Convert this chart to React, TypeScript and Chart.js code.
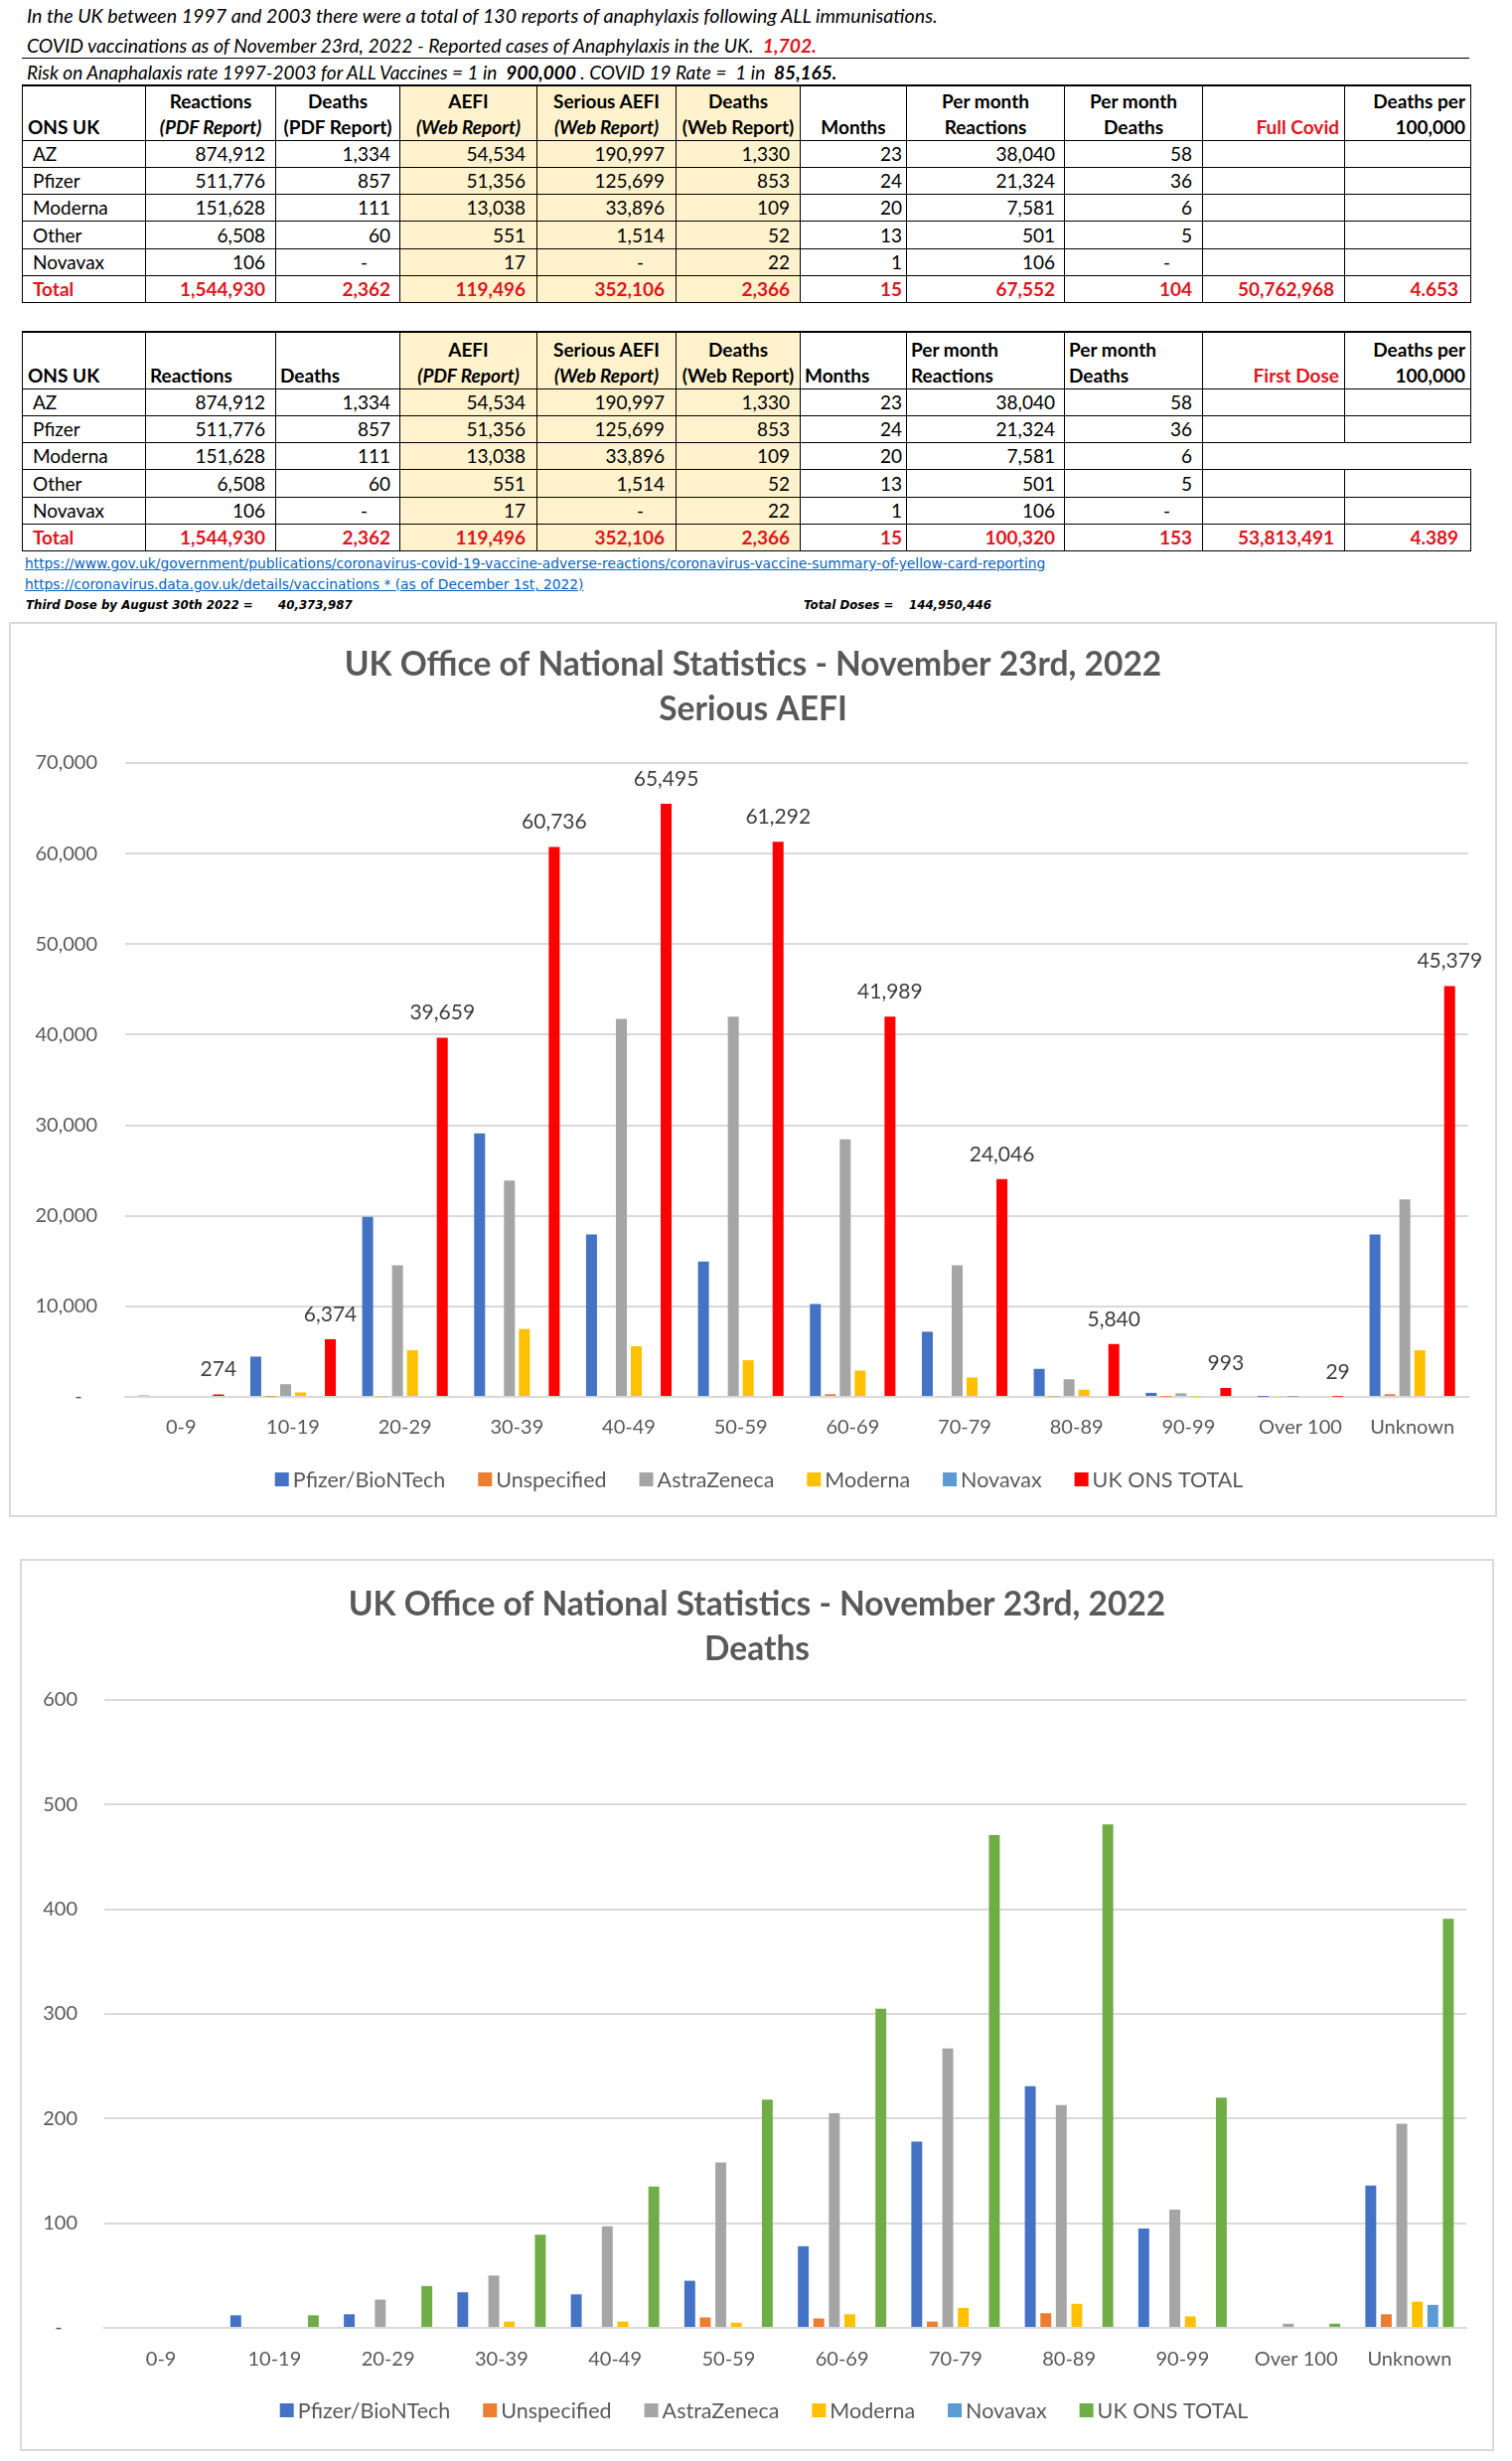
import React, { useEffect, useRef } from 'react';
import { Chart, registerables } from 'chart.js';

Chart.register(...registerables);

const FONT = 'Lato, "Open Sans", "DejaVu Sans", sans-serif';
const LINK_FONT = '"DejaVu Sans", Verdana, sans-serif';

// ---------- chart data ----------
const ageGroups = ['0-9', '10-19', '20-29', '30-39', '40-49', '50-59', '60-69', '70-79', '80-89', '90-99', 'Over 100', 'Unknown'];
const seriesNames = ['Pfizer/BioNTech', 'Unspecified', 'AstraZeneca', 'Moderna', 'Novavax', 'UK ONS TOTAL'];

// Serious AEFI by age group
const aefiPfizer = [150, 4450, 19900, 29100, 17950, 14950, 10250, 7200, 3100, 450, 10, 17950];
const aefiUnspecified = [0, 40, 80, 120, 100, 100, 300, 100, 60, 20, 0, 300];
const aefiAstraZeneca = [0, 1400, 14550, 23900, 41750, 42000, 28450, 14550, 1950, 400, 5, 21800];
const aefiModerna = [0, 500, 5150, 7500, 5600, 4050, 2900, 2150, 800, 50, 0, 5150];
const aefiNovavax = [0, 0, 0, 0, 0, 0, 0, 0, 0, 0, 0, 0];
const aefiTotal = [274, 6374, 39659, 60736, 65495, 61292, 41989, 24046, 5840, 993, 29, 45379];

// Deaths by age group
const deathsPfizer = [0, 12, 13, 34, 32, 45, 78, 178, 231, 95, 0, 136];
const deathsUnspecified = [0, 0, 0, 0, 0, 10, 9, 6, 14, 0, 0, 13];
const deathsAstraZeneca = [0, 0, 27, 50, 97, 158, 205, 267, 213, 113, 4, 195];
const deathsModerna = [0, 0, 0, 6, 6, 5, 13, 19, 23, 11, 0, 25];
const deathsNovavax = [0, 0, 0, 0, 0, 0, 0, 0, 0, 0, 0, 22];
const deathsTotal = [0, 12, 40, 89, 135, 218, 305, 471, 481, 220, 4, 391];

const aefiTicks = [0, 10000, 20000, 30000, 40000, 50000, 60000, 70000];
const deathTicks = [0, 100, 200, 300, 400, 500, 600];

// ---------- table data ----------
const vaccineNames = ['AZ', 'Pfizer', 'Moderna', 'Other', 'Novavax'];
const reactionsPdf = [874912, 511776, 151628, 6508, 106];
const deathsPdf = [1334, 857, 111, 60, null];
const aefiWeb = [54534, 51356, 13038, 551, 17];
const seriousAefiWeb = [190997, 125699, 33896, 1514, null];
const deathsWeb = [1330, 853, 109, 52, 22];
const monthsCounted = [23, 24, 20, 13, 1];
const perMonthReactions = [38040, 21324, 7581, 501, 106];
const perMonthDeaths = [58, 36, 6, 5, null];

const totalsFullCovid = [1544930, 2362, 119496, 352106, 2366, 15, 67552, 104, 50762968, '4.653'];
const totalsFirstDose = [1544930, 2362, 119496, 352106, 2366, 15, 100320, 153, 53813491, '4.389'];

const vaccineColors = ['#4472C4', '#ED7D31', '#A5A5A5', '#FFC000', '#5B9BD5'];

// layout constants
const colEdges = [22, 146, 277, 402, 540, 680, 805, 912, 1071, 1210, 1353, 1480];
const HIGHLIGHT = '#FFF2CC';
const RED = '#E0161E';

const fmt = (v: any) => (typeof v === 'number' ? v.toLocaleString('en-US') : v);

// ---------- plugins ----------
const barLabelPlugin = {
  id: 'barLabels',
  afterDatasetsDraw(chart: any, _args: any, opts: any) {
    if (opts == null || opts.datasetIndex == null || opts.datasetIndex < 0) return;
    const meta = chart.getDatasetMeta(opts.datasetIndex);
    const data = chart.data.datasets[opts.datasetIndex].data;
    const ctx = chart.ctx;
    ctx.save();
    ctx.font = `${opts.size}px ${FONT}`;
    ctx.fillStyle = opts.color;
    ctx.textAlign = 'center';
    ctx.textBaseline = 'middle';
    meta.data.forEach((el: any, i: number) => {
      ctx.fillText(Number(data[i]).toLocaleString('en-US'), el.x, el.y - opts.offset);
    });
    ctx.restore();
  },
};

const boxLegendPlugin = {
  id: 'boxLegend',
  afterDraw(chart: any, _args: any, opts: any) {
    if (!opts || !opts.show) return;
    const ctx = chart.ctx;
    ctx.save();
    ctx.font = `${opts.size}px ${FONT}`;
    ctx.textBaseline = 'middle';
    ctx.textAlign = 'left';
    const items = chart.data.datasets.map((ds: any) => ({
      text: ds.label,
      color: ds.backgroundColor,
      w: ctx.measureText(ds.label).width,
    }));
    const total = items.reduce((s: number, it: any) => s + opts.box + opts.gap + it.w, 0) + opts.spacing * (items.length - 1);
    let x = opts.cx - total / 2;
    items.forEach((it: any) => {
      ctx.fillStyle = it.color;
      ctx.fillRect(x, opts.cy - opts.box / 2, opts.box, opts.box);
      ctx.fillStyle = opts.color;
      ctx.fillText(it.text, x + opts.box + opts.gap, opts.cy + 1);
      x += opts.box + opts.gap + it.w + opts.spacing;
    });
    ctx.restore();
  },
};

type ChartBoxProps = {
  left: number;
  top: number;
  width: number;
  height: number;
  title: string[];
  titlePadTop: number;
  titlePadBottom: number;
  series: number[][];
  colors: string[];
  ticks: number[];
  plotLeft: number;
  plotRight: number;
  plotBottom: number;
  xLabelPad: number;
  yLabelPad: number;
  legendCx: number;
  legendCy: number;
  labelSeries: number;
  barPct: number;
  catPct: number;
};

function ChartBox(p: ChartBoxProps) {
  const ref = useRef<HTMLCanvasElement | null>(null);
  useEffect(() => {
    if (!ref.current) return;
    const xAxisH = 45;
    const rightGap = p.width - p.plotRight;
    const chart = new Chart(ref.current, {
      type: 'bar',
      data: {
        labels: ageGroups,
        datasets: p.series.map((vals, i) => ({
          label: seriesNames[i],
          data: vals,
          backgroundColor: p.colors[i],
          borderWidth: 0,
          barPercentage: p.barPct,
          categoryPercentage: p.catPct,
          yAxisID: 'y',
        })),
      },
      options: {
        responsive: false,
        animation: false,
        devicePixelRatio: 1,
        layout: {
          padding: { top: 0, left: 0, right: 0, bottom: p.height - p.plotBottom - xAxisH },
        },
        plugins: {
          legend: { display: false },
          tooltip: { enabled: false },
          title: {
            display: true,
            text: p.title,
            color: '#595959',
            font: { family: FONT, size: 33.5, weight: 'bold', lineHeight: 45 / 33.5 },
            padding: { top: p.titlePadTop, bottom: p.titlePadBottom },
          },
          barLabels: { datasetIndex: p.labelSeries, size: 21, color: '#404040', offset: 25 },
          boxLegend: { show: true, size: 21.5, color: '#595959', box: 14, gap: 4, spacing: 33, cx: p.legendCx, cy: p.legendCy },
        } as any,
        scales: {
          x: {
            grid: { display: false, drawTicks: false },
            border: { display: true, color: '#D9D9D9', width: 2 },
            ticks: { color: '#595959', font: { family: FONT, size: 20 }, padding: p.xLabelPad, maxRotation: 0, autoSkip: false },
            afterFit: (s: any) => {
              s.height = xAxisH;
            },
          },
          y: {
            position: 'left',
            min: p.ticks[0],
            max: p.ticks[p.ticks.length - 1],
            afterBuildTicks: (s: any) => {
              s.ticks = p.ticks.map((v) => ({ value: v }));
            },
            grid: { color: '#D9D9D9', lineWidth: 2, drawTicks: false },
            border: { display: false },
            ticks: {
              color: '#595959',
              font: { family: FONT, size: 20 },
              padding: p.yLabelPad,
              callback: (v: any) => (Number(v) === 0 ? '-   ' : Number(v).toLocaleString('en-US')),
            },
            afterFit: (s: any) => {
              s.width = p.plotLeft;
            },
          },
          yRightSpacer: {
            type: 'linear',
            position: 'right',
            display: true,
            grid: { display: false, drawOnChartArea: false, drawTicks: false },
            border: { display: false },
            ticks: { display: false },
            afterFit: (s: any) => {
              s.width = rightGap;
            },
          },
        },
      } as any,
      plugins: [barLabelPlugin, boxLegendPlugin] as any,
    });
    return () => chart.destroy();
  }, []);
  return (
    <canvas
      ref={ref}
      width={p.width}
      height={p.height}
      style={{ position: 'absolute', left: p.left, top: p.top, width: p.width, height: p.height }}
    />
  );
}

type HeaderCell = { l1: string; l2: string; align: 'left' | 'center' | 'right'; italic2?: boolean; red?: boolean };

const header1: HeaderCell[] = [
  { l1: '', l2: 'ONS UK', align: 'left' },
  { l1: 'Reactions', l2: '(PDF Report)', align: 'center', italic2: true },
  { l1: 'Deaths', l2: '(PDF Report)', align: 'center' },
  { l1: 'AEFI', l2: '(Web Report)', align: 'center', italic2: true },
  { l1: 'Serious AEFI', l2: '(Web Report)', align: 'center', italic2: true },
  { l1: 'Deaths', l2: '(Web Report)', align: 'center' },
  { l1: '', l2: 'Months', align: 'center' },
  { l1: 'Per month', l2: 'Reactions', align: 'center' },
  { l1: 'Per month', l2: 'Deaths', align: 'center' },
  { l1: '', l2: 'Full Covid', align: 'right', red: true },
  { l1: 'Deaths per', l2: '100,000', align: 'right' },
];

const header2: HeaderCell[] = [
  { l1: '', l2: 'ONS UK', align: 'left' },
  { l1: '', l2: 'Reactions', align: 'left' },
  { l1: '', l2: 'Deaths', align: 'left' },
  { l1: 'AEFI', l2: '(PDF Report)', align: 'center', italic2: true },
  { l1: 'Serious AEFI', l2: '(Web Report)', align: 'center', italic2: true },
  { l1: 'Deaths', l2: '(Web Report)', align: 'center' },
  { l1: '', l2: 'Months', align: 'left' },
  { l1: 'Per month', l2: 'Reactions', align: 'left' },
  { l1: 'Per month', l2: 'Deaths', align: 'left' },
  { l1: '', l2: 'First Dose', align: 'right', red: true },
  { l1: 'Deaths per', l2: '100,000', align: 'right' },
];

const rightPads = [0, 10, 9, 11, 11, 10, 4, 9, 10, 10, 12];

function DataTable({ top, headerH, headers, totals, gapRow }: { top: number; headerH: number; headers: HeaderCell[]; totals: any[]; gapRow: boolean }) {
  const widths = colEdges.slice(1).map((e, i) => e - colEdges[i]);
  const rowH = 27.33;
  const bodyRows: any[][] = vaccineNames.map((n, r) => [
    n,
    reactionsPdf[r],
    deathsPdf[r],
    aefiWeb[r],
    seriousAefiWeb[r],
    deathsWeb[r],
    monthsCounted[r],
    perMonthReactions[r],
    perMonthDeaths[r],
    '',
    '',
  ]);
  const bd = '1px solid #000';
  const cellBase = (c: number): React.CSSProperties => ({
    border: bd,
    background: c >= 3 && c <= 5 ? HIGHLIGHT : '#fff',
    whiteSpace: 'nowrap',
    overflow: 'visible',
    padding: 0,
  });
  return (
    <table
      style={{
        position: 'absolute',
        left: colEdges[0],
        top,
        width: colEdges[11] - colEdges[0],
        borderCollapse: 'collapse',
        tableLayout: 'fixed',
        fontFamily: FONT,
        fontSize: 19,
        color: '#000',
      }}
    >
      <colgroup>
        {widths.map((w, i) => (
          <col key={i} style={{ width: w }} />
        ))}
      </colgroup>
      <tbody>
        <tr style={{ height: headerH }}>
          {headers.map((h, c) => (
            <td
              key={c}
              style={{
                ...cellBase(c),
                borderTop: '2px solid #000',
                verticalAlign: 'bottom',
                textAlign: h.align,
                fontWeight: 'bold',
                lineHeight: '26px',
                paddingLeft: h.align === 'left' ? (c === 0 ? 5 : 4) : 0,
                paddingRight: h.align === 'right' ? 5 : 0,
                color: h.red ? RED : '#000',
              }}
            >
              <div>{h.l1 || '\u00a0'}</div>
              <div style={{ fontStyle: h.italic2 ? 'italic' : 'normal' }}>{h.l2}</div>
            </td>
          ))}
        </tr>
        {bodyRows.map((row, r) => (
          <tr key={r} style={{ height: rowH }}>
            {row.map((v, c) => {
              const st: React.CSSProperties = { ...cellBase(c), lineHeight: '24px' };
              if (c === 0) {
                st.textAlign = 'left';
                st.paddingLeft = 10;
              } else {
                st.textAlign = 'right';
                st.paddingRight = v === null ? 32 : rightPads[c];
              }
              if (gapRow && r === 2 && c >= 9) {
                if (c === 9) st.borderRight = 'none';
                if (c === 10) {
                  st.borderLeft = 'none';
                  st.borderRight = 'none';
                }
              }
              return (
                <td key={c} style={st}>
                  {v === null ? '-' : fmt(v)}
                </td>
              );
            })}
          </tr>
        ))}
        <tr style={{ height: rowH }}>
          {['Total', ...totals].map((v, c) => (
            <td
              key={c}
              style={{
                ...cellBase(c),
                lineHeight: '24px',
                color: RED,
                fontWeight: 'bold',
                textAlign: c === 0 ? 'left' : 'right',
                paddingLeft: c === 0 ? 10 : 0,
                paddingRight: c === 0 ? 0 : rightPads[c],
              }}
            >
              {fmt(v)}
            </td>
          ))}
        </tr>
      </tbody>
    </table>
  );
}

const lineStyle = (cy: number, size: number): React.CSSProperties => ({
  position: 'absolute',
  left: 27,
  top: cy - 12,
  height: 24,
  lineHeight: '24px',
  whiteSpace: 'pre',
  fontFamily: FONT,
  fontSize: size,
  fontStyle: 'italic',
  color: '#000',
});

const smallBold: React.CSSProperties = {
  position: 'absolute',
  top: 601,
  fontFamily: LINK_FONT,
  fontSize: 11.8,
  fontWeight: 'bold',
  fontStyle: 'italic',
  lineHeight: '16px',
  whiteSpace: 'pre',
};

const linkStyle: React.CSSProperties = {
  position: 'absolute',
  left: 25,
  fontFamily: LINK_FONT,
  fontSize: 13.8,
  lineHeight: '16px',
  color: '#0563C1',
  textDecoration: 'underline',
  whiteSpace: 'pre',
};

export default function App() {
  return (
    <div style={{ position: 'relative', width: 1522, height: 2477, background: '#fff', overflow: 'hidden', fontFamily: FONT }}>
      <style>{'body{margin:0;background:#fff}'}</style>

      <div style={lineStyle(16, 19.6)}>
        In the UK between 1997 and 2003 there were a total of 130 reports of anaphylaxis following ALL immunisations.
      </div>
      <div style={lineStyle(46, 19.4)}>
        {'COVID vaccinations as of November 23rd, 2022 - Reported cases of Anaphylaxis in the UK.  '}
        <span style={{ color: RED, fontWeight: 'bold' }}>1,702.</span>
      </div>
      <div style={{ position: 'absolute', left: 22, top: 58, width: 1457, height: 1, background: '#000' }} />
      <div style={lineStyle(73, 19)}>
        {'Risk on Anaphalaxis rate 1997-2003 for ALL Vaccines = 1 in  '}
        <b>900,000</b>
        {' . COVID 19 Rate =  1 in  '}
        <b>85,165.</b>
      </div>

      <DataTable top={85} headerH={55} headers={header1} totals={totalsFullCovid} gapRow={false} />
      <DataTable top={333} headerH={57} headers={header2} totals={totalsFirstDose} gapRow={true} />

      <div style={{ ...linkStyle, top: 559 }}>
        https://www.gov.uk/government/publications/coronavirus-covid-19-vaccine-adverse-reactions/coronavirus-vaccine-summary-of-yellow-card-reporting
      </div>
      <div style={{ ...linkStyle, top: 580 }}>
        https://coronavirus.data.gov.uk/details/vaccinations * (as of December 1st, 2022)
      </div>
      <div style={{ ...smallBold, left: 26 }}>Third Dose by August 30th 2022 =</div>
      <div style={{ ...smallBold, left: 280 }}>40,373,987</div>
      <div style={{ ...smallBold, left: 809 }}>Total Doses =</div>
      <div style={{ ...smallBold, left: 915 }}>144,950,446</div>

      <div style={{ position: 'absolute', left: 9, top: 626, width: 1498, height: 901, border: '2px solid #D9D9D9', boxSizing: 'border-box' }} />
      <ChartBox
        left={10}
        top={627}
        width={1496}
        height={900}
        title={['UK Office of National Statistics - November 23rd, 2022', 'Serious AEFI']}
        titlePadTop={19.5}
        titlePadBottom={31.5}
        series={[aefiPfizer, aefiUnspecified, aefiAstraZeneca, aefiModerna, aefiNovavax, aefiTotal]}
        colors={[...vaccineColors, '#FF0000']}
        ticks={aefiTicks}
        plotLeft={116}
        plotRight={1468}
        plotBottom={779}
        xLabelPad={19}
        yLabelPad={28}
        legendCx={754}
        legendCy={862}
        labelSeries={5}
        barPct={0.733}
        catPct={0.8}
      />

      <div style={{ position: 'absolute', left: 20, top: 1569, width: 1484, height: 898, border: '2px solid #D9D9D9', boxSizing: 'border-box' }} />
      <ChartBox
        left={21}
        top={1570}
        width={1482}
        height={896}
        title={['UK Office of National Statistics - November 23rd, 2022', 'Deaths']}
        titlePadTop={22.5}
        titlePadBottom={28.5}
        series={[deathsPfizer, deathsUnspecified, deathsAstraZeneca, deathsModerna, deathsNovavax, deathsTotal]}
        colors={[...vaccineColors, '#70AD47']}
        ticks={deathTicks}
        plotLeft={84}
        plotRight={1455}
        plotBottom={773}
        xLabelPad={20}
        yLabelPad={27}
        legendCx={748}
        legendCy={856}
        labelSeries={-1}
        barPct={0.7}
        catPct={0.82}
      />
    </div>
  );
}
